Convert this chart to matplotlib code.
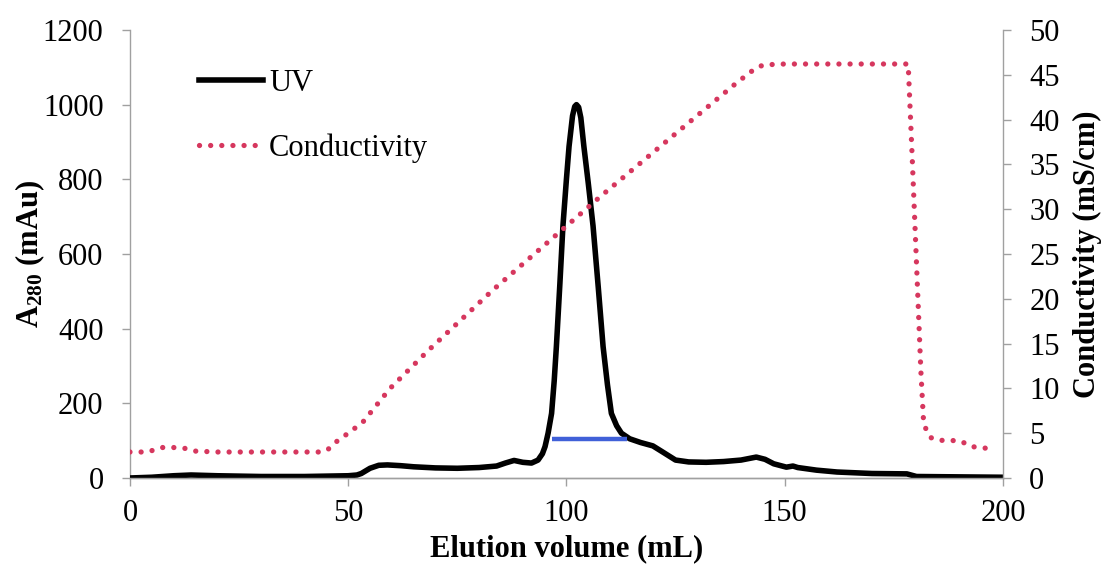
import numpy as np
import matplotlib.pyplot as plt

plt.rcParams["font.family"] = ["Liberation Serif", "DejaVu Serif"]
plt.rcParams["mathtext.fontset"] = "custom"
plt.rcParams["mathtext.rm"] = "Liberation Serif"
plt.rcParams["mathtext.bf"] = "Liberation Serif:bold"

# UV trace (mAu) vs elution volume (mL)
uv_x = [0, 5, 10, 14, 20, 30, 40, 45, 50, 52, 53, 55, 57, 59, 62, 65, 70, 75, 80,
        84, 86, 88, 90, 92, 93.5, 94.5, 95.1, 95.8, 96.6, 97.2, 97.7, 98.5, 99.2,
        100.0, 100.6, 101.4, 101.9, 102.3, 102.8, 103.3, 104, 105, 106.1, 107.3,
        108.4, 109.4, 110.3, 111.5, 112.6, 114.5, 117, 119.8, 122, 125, 128, 132,
        136, 140, 143.5, 145.5, 147.5, 150.4, 151.9, 153, 157.3, 162, 170, 178,
        180.2, 190, 200]
uv_y = [0, 2, 6, 8, 6, 4, 4, 5, 6, 8, 12, 26, 34, 35, 33, 30, 27, 26, 28,
        32, 40, 47, 42, 40, 48, 65, 84, 120, 173, 260, 352, 520, 675,
        800, 888, 970, 995, 1000, 993, 965, 888, 790, 675, 510,
        352, 250, 173, 140, 120, 105, 95, 86, 70, 48, 43, 42,
        44, 48, 56, 50, 38, 29, 32, 28, 21, 16, 12, 11,
        4, 3, 2]

# Conductivity (mS/cm)
cond_x = [0, 4, 7.3, 10, 12.6, 15, 20, 30, 40, 44, 45.4, 47.3, 50, 53.3, 59.6, 68.5,
          83.2, 108, 127.4, 139, 143, 145.1, 150, 178.3, 179.2, 180.2, 181.2, 181.8,
          182.5, 183.5, 185.4, 188, 190.4, 192.8, 195, 197.8]
cond_y = [2.9, 2.9, 3.4, 3.4, 3.3, 3.0, 2.9, 2.9, 2.9, 2.9, 3.2, 4.05, 5.0, 6.2, 10.0, 14.3,
          21.0, 31.5, 39.4, 44.1, 45.6, 46.1, 46.2, 46.2, 36, 24, 12, 6.5,
          5.2, 4.5, 4.2, 4.2, 4.1, 3.5, 3.4, 3.2]

# pooled fraction bar
pool_x = [96.7, 113.9]
pool_y = [105, 105]

fig = plt.figure(figsize=(11.05, 5.65), dpi=100)
ax = fig.add_axes([0.1176, 0.154, 0.79, 0.793])
ax2 = ax.twinx()

ax.plot(uv_x, uv_y, color="black", lw=4.0, solid_joinstyle="round", label="UV", zorder=3)
ax.plot(pool_x, pool_y, color="#4060d8", lw=3.2, solid_capstyle="butt", zorder=4)
ax2.plot(cond_x, cond_y, color="#d6375e", lw=3.8, linestyle=(0, (0.01, 2.1)),
         dash_capstyle="round", label="Conductivity")

ax.set_xlim(0, 200)
ax.set_ylim(0, 1200)
ax2.set_ylim(0, 50)
ax.set_xticks(np.arange(0, 201, 50))
ax.set_yticks(np.arange(0, 1201, 200))
ax2.set_yticks(np.arange(0, 51, 5))

for a in (ax, ax2):
    a.spines["top"].set_visible(False)
    for s in a.spines.values():
        s.set_color("#a0a0a0")
        s.set_linewidth(1.0)
    a.tick_params(labelsize=22, color="#a0a0a0", length=6, width=1, pad=13)
ax.tick_params(axis="x", pad=9)
ax2.spines["left"].set_visible(False)
ax.spines["right"].set_visible(False)

ax.set_xlabel("Elution volume (mL)", fontsize=22, fontweight="bold")
ax.set_ylabel(r"$\mathbf{A_{280}}$ (mAu)", fontsize=22, fontweight="bold")
ax2.set_ylabel("Conductivity (mS/cm)", fontsize=22, fontweight="bold")
ax.xaxis.set_label_coords(0.5, -0.158)
ax.xaxis.label.set_va("center")
ax.yaxis.set_label_coords(-0.1145, 0.5)
ax.yaxis.label.set_va("center")
ax2.yaxis.set_label_coords(1.097, 0.5)
ax2.yaxis.label.set_va("center")

h1, l1 = ax.get_legend_handles_labels()
h2, l2 = ax2.get_legend_handles_labels()
ax.legend(h1 + h2, l1 + l2, loc="upper left", bbox_to_anchor=(0.065, 0.94),
          frameon=False, fontsize=22, handlelength=2.1, handletextpad=0.2,
          labelspacing=1.15, borderaxespad=0.0)

fig.savefig("out.png", dpi=100)
